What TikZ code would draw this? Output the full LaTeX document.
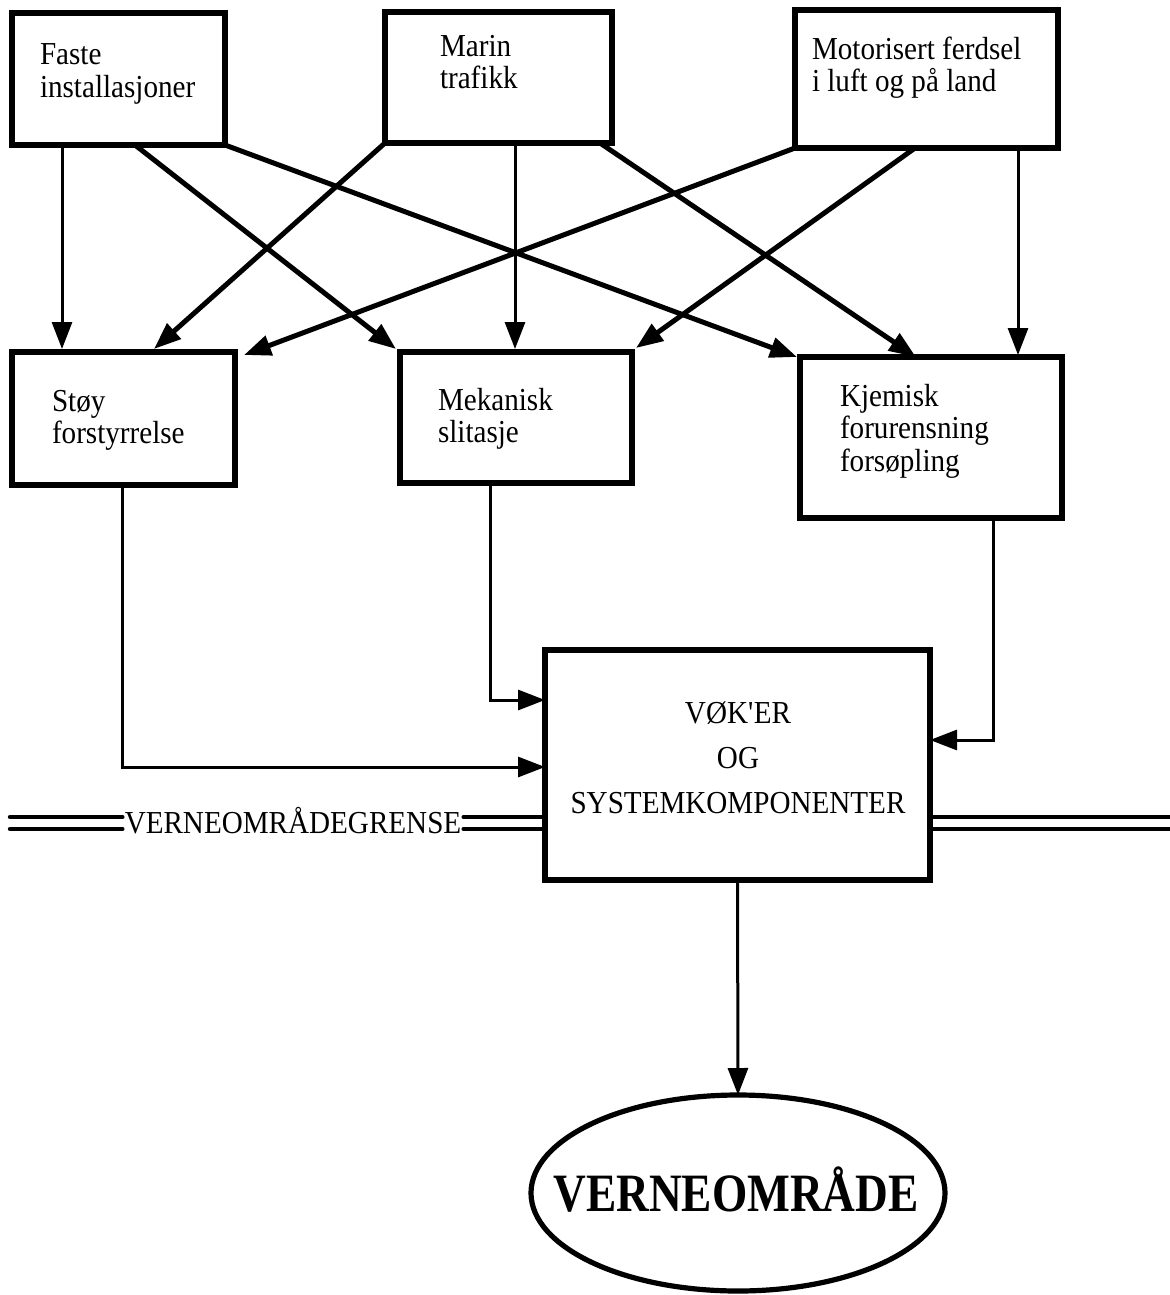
\documentclass[tikz,border=0pt]{standalone}
\usepackage{fontspec}
\setmainfont[FakeStretch=0.91]{Liberation Serif}
\newfontfamily\bigfont[FakeStretch=0.84]{Liberation Serif}
\usetikzlibrary{arrows.meta,shapes.geometric}
\begin{document}
\begin{tikzpicture}[x=0.5pt,y=-0.5pt,
  box/.style={draw, line width=2.6pt, rectangle, inner sep=0pt, outer sep=0pt},
  lbl/.style={inner sep=0pt, outer sep=0pt, anchor=north west, align=left,
              font=\fontsize{16pt}{16.2pt}\selectfont},
  tip/.style={-{Triangle[length=13.5pt,width=10pt]}},
  diag/.style={tip, line width=2.5pt},
  feed/.style={tip, line width=1.5pt},
  rim/.style={line width=2.2pt, line cap=round}]
\useasboundingbox (0,0) rectangle (1170,1295);

% sources
\node[box, minimum width=106.5pt, minimum height=66pt]   (faste) at (118.5,79) {};
\node[box, minimum width=113.5pt, minimum height=65.5pt] (marin) at (498.5,77.5) {};
\node[box, minimum width=131.5pt, minimum height=69pt]   (motor) at (926.5,79) {};
\node[lbl] (tfaste) at (40,44)  {Faste\\installasjoner};
\node[lbl] (tmarin) at (440,35) {Marin\\trafikk};
\node[lbl] (tmotor) at (812,37) {Motorisert ferdsel\\i luft og på land};

% effects
\node[box, minimum width=111.5pt, minimum height=66.5pt] (stoy) at (123.5,418.5) {};
\node[box, minimum width=116pt,   minimum height=65.5pt] (mek)  at (516,417.5) {};
\node[box, minimum width=131pt,   minimum height=80.5pt] (kjem) at (931,437.5) {};
\node[lbl] (tstoy) at (52,390)  {Støy\\forstyrrelse};
\node[lbl] (tmek)  at (438,388) {Mekanisk\\slitasje};
\node[lbl] (tkjem) at (840,384) {Kjemisk\\forurensning\\forsøpling};

% receiving system
\node[box, minimum width=192.5pt, minimum height=115pt] (vok) at (737.5,765) {};
\node[inner sep=0pt, anchor=north, align=center,
      font=\fontsize{16pt}{22.7pt}\selectfont] (tvok) at (738,701)
      {VØK\textquotesingle ER\\OG\\SYSTEMKOMPONENTER};

\node[draw, ellipse, line width=2.6pt, minimum width=207pt, minimum height=98pt,
      inner sep=0pt, outer sep=0pt] (omr) at (738,1193) {};
\node[font=\bigfont\fontsize{27pt}{27pt}\selectfont\bfseries, inner sep=0pt,
      anchor=base] (tomr) at (736,1211) {VERNEOMRÅDE};

% protected-area boundary
\node[inner sep=1pt, anchor=base, font=\fontsize{16pt}{16pt}\selectfont] (grense) at (293,833) {VERNEOMRÅDEGRENSE};
\coordinate (gl) at (10,823);
\coordinate (gr) at (1170,823);
\foreach \dy in {-6,6} {
  \draw[rim] ([yshift=\dy*0.5pt]gl) -- ([yshift=\dy*0.5pt]grense.west |- gl);
  \draw[rim] ([yshift=\dy*0.5pt]grense.east |- gl) -- ([yshift=\dy*0.5pt]vok.west |- gl);
  \draw[rim, line cap=butt] ([yshift=\dy*0.5pt]vok.east |- gr) -- ([yshift=\dy*0.5pt]gr);
}

% sources -> effects
\draw[feed] (faste.south -| 62,0)  -- ([yshift=1.5pt]stoy.north -| 62,0);
\draw[diag] (faste.south -| 135,0) -- ([yshift=1.5pt]mek.north -| 396,0);
\draw[diag] (faste.south east)     -- (kjem.north -| 797,0);
\draw[diag] (marin.south west)     -- ([yshift=1.5pt]stoy.north -| 154,0);
\draw[feed] (marin.south -| 515,0) -- ([yshift=1.5pt]mek.north -| 515,0);
\draw[diag] (marin.south -| 600,0) -- (kjem.north -| 916,0);
\draw[diag] (motor.south west)     -- ([yshift=-1.5pt]stoy.north -| 244,0);
\draw[diag] (motor.south -| 915,0) -- ([yshift=2pt]mek.north -| 636,0);
\draw[feed] (motor.south -| 1018,0) -- ([yshift=1pt]kjem.north -| 1018,0);

% effects -> receiving system
\draw[feed] (stoy.south -| 122,0) |- (vok.west |- 0,767);
\draw[feed] (mek.south -| 490,0)  |- (vok.west |- 0,700);
\draw[feed] (kjem.south -| 993,0) |- (vok.east |- 0,740);
\draw[feed] (vok.south) -- (omr.north);
\end{tikzpicture}
\end{document}
